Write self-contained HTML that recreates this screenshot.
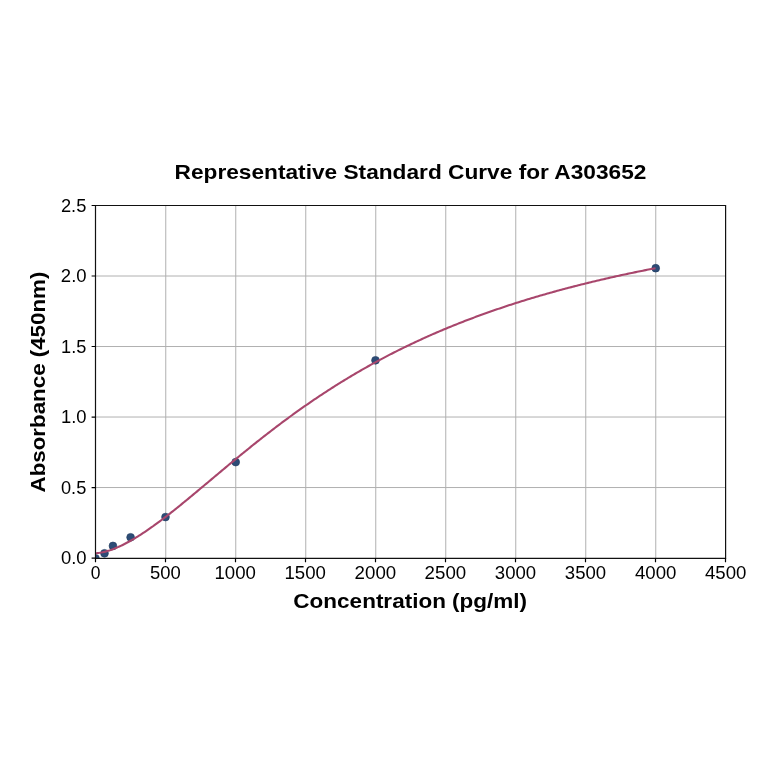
<!DOCTYPE html>
<html><head><meta charset="utf-8"><title>Representative Standard Curve for A303652</title>
<style>html,body{margin:0;padding:0;background:#fff;width:764px;height:764px;overflow:hidden}svg{display:block;will-change:transform}</style></head>
<body><svg width="764" height="764" viewBox="0 0 764 764">
<defs><clipPath id="ax"><rect x="95.5" y="205.5" width="630.0" height="352.54999999999995"/></clipPath></defs>
<rect x="0" y="0" width="764" height="764" fill="#fff"/>
<g stroke="#b0b0b0" stroke-opacity="1" stroke-width="1.0" fill="none"><path d="M165.75 205.5V558.05"/><path d="M235.75 205.5V558.05"/><path d="M305.75 205.5V558.05"/><path d="M375.75 205.5V558.05"/><path d="M445.75 205.5V558.05"/><path d="M515.75 205.5V558.05"/><path d="M585.75 205.5V558.05"/><path d="M655.75 205.5V558.05"/><path d="M95.5 487.54H725.5"/><path d="M95.5 417.03H725.5"/><path d="M95.5 346.52H725.5"/><path d="M95.5 276.01H725.5"/></g>
<g clip-path="url(#ax)" fill="#2d4c76" stroke="#203a60" stroke-width="0.6"><circle cx="95.50" cy="558.30" r="3.9"/><circle cx="104.50" cy="553.30" r="3.9"/><circle cx="112.95" cy="545.90" r="3.9"/><circle cx="130.60" cy="537.30" r="3.9"/><circle cx="165.50" cy="517.05" r="3.9"/><circle cx="235.70" cy="462.10" r="3.9"/><circle cx="375.50" cy="360.30" r="3.9"/><circle cx="655.70" cy="268.20" r="3.9"/></g>
<polyline points="95.50,553.21 96.90,553.14 98.31,553.00 99.71,552.81 101.11,552.58 102.52,552.30 103.92,551.98 105.32,551.63 106.73,551.24 108.13,550.82 109.54,550.38 110.94,549.90 112.34,549.40 113.75,548.87 115.15,548.31 116.55,547.73 117.96,547.13 119.36,546.50 120.76,545.85 122.17,545.18 123.57,544.49 124.97,543.78 126.38,543.05 127.78,542.30 129.18,541.54 130.59,540.75 131.99,539.95 133.39,539.13 134.80,538.30 136.20,537.45 137.61,536.59 139.01,535.71 140.41,534.82 141.82,533.91 143.22,532.99 144.62,532.06 146.03,531.12 147.43,530.16 148.83,529.19 150.24,528.22 151.64,527.23 153.04,526.23 154.45,525.22 155.85,524.20 157.25,523.17 158.66,522.13 160.06,521.09 161.46,520.03 162.87,518.97 164.27,517.90 165.68,516.82 167.08,515.74 168.48,514.65 169.89,513.55 171.29,512.45 172.69,511.34 174.10,510.23 175.50,509.11 176.90,507.98 178.31,506.85 179.71,505.72 181.11,504.58 182.52,503.44 183.92,502.29 185.32,501.14 186.73,499.99 188.13,498.83 189.54,497.67 190.94,496.51 192.34,495.35 193.75,494.18 195.15,493.01 196.55,491.84 197.96,490.67 199.36,489.50 200.76,488.32 202.17,487.15 203.57,485.97 204.97,484.80 206.38,483.62 207.78,482.44 209.18,481.26 210.59,480.08 211.99,478.90 213.39,477.72 214.80,476.55 216.20,475.37 217.61,474.19 219.01,473.02 220.41,471.84 221.82,470.67 223.22,469.49 224.62,468.32 226.03,467.15 227.43,465.98 228.83,464.81 230.24,463.65 231.64,462.48 233.04,461.32 234.45,460.16 235.85,459.00 237.25,457.85 238.66,456.69 240.06,455.54 241.46,454.39 242.87,453.25 244.27,452.10 245.68,450.96 247.08,449.83 248.48,448.69 249.89,447.56 251.29,446.43 252.69,445.30 254.10,444.18 255.50,443.06 256.90,441.94 258.31,440.83 259.71,439.72 261.11,438.61 262.52,437.51 263.92,436.41 265.32,435.32 266.73,434.22 268.13,433.13 269.54,432.05 270.94,430.97 272.34,429.89 273.75,428.82 275.15,427.75 276.55,426.68 277.96,425.62 279.36,424.56 280.76,423.51 282.17,422.46 283.57,421.41 284.97,420.37 286.38,419.33 287.78,418.30 289.18,417.27 290.59,416.25 291.99,415.23 293.39,414.21 294.80,413.20 296.20,412.19 297.61,411.18 299.01,410.18 300.41,409.19 301.82,408.20 303.22,407.21 304.62,406.23 306.03,405.25 307.43,404.28 308.83,403.31 310.24,402.34 311.64,401.38 313.04,400.42 314.45,399.47 315.85,398.53 317.25,397.58 318.66,396.64 320.06,395.71 321.46,394.78 322.87,393.85 324.27,392.93 325.68,392.01 327.08,391.10 328.48,390.19 329.89,389.29 331.29,388.39 332.69,387.50 334.10,386.61 335.50,385.72 336.90,384.84 338.31,383.96 339.71,383.09 341.11,382.22 342.52,381.35 343.92,380.49 345.32,379.64 346.73,378.78 348.13,377.94 349.54,377.09 350.94,376.25 352.34,375.42 353.75,374.59 355.15,373.76 356.55,372.94 357.96,372.12 359.36,371.31 360.76,370.50 362.17,369.70 363.57,368.89 364.97,368.10 366.38,367.30 367.78,366.52 369.18,365.73 370.59,364.95 371.99,364.17 373.39,363.40 374.80,362.63 376.20,361.87 377.61,361.11 379.01,360.35 380.41,359.60 381.82,358.85 383.22,358.11 384.62,357.37 386.03,356.63 387.43,355.90 388.83,355.17 390.24,354.44 391.64,353.72 393.04,353.01 394.45,352.29 395.85,351.58 397.25,350.88 398.66,350.18 400.06,349.48 401.46,348.78 402.87,348.09 404.27,347.40 405.68,346.72 407.08,346.04 408.48,345.37 409.89,344.69 411.29,344.02 412.69,343.36 414.10,342.70 415.50,342.04 416.90,341.38 418.31,340.73 419.71,340.09 421.11,339.44 422.52,338.80 423.92,338.16 425.32,337.53 426.73,336.90 428.13,336.27 429.54,335.65 430.94,335.03 432.34,334.41 433.75,333.80 435.15,333.19 436.55,332.58 437.96,331.98 439.36,331.38 440.76,330.78 442.17,330.19 443.57,329.59 444.97,329.01 446.38,328.42 447.78,327.84 449.18,327.26 450.59,326.69 451.99,326.12 453.39,325.55 454.80,324.98 456.20,324.42 457.61,323.86 459.01,323.30 460.41,322.75 461.82,322.20 463.22,321.65 464.62,321.10 466.03,320.56 467.43,320.02 468.83,319.49 470.24,318.95 471.64,318.42 473.04,317.90 474.45,317.37 475.85,316.85 477.25,316.33 478.66,315.81 480.06,315.30 481.46,314.79 482.87,314.28 484.27,313.78 485.68,313.27 487.08,312.77 488.48,312.27 489.89,311.78 491.29,311.29 492.69,310.80 494.10,310.31 495.50,309.83 496.90,309.35 498.31,308.87 499.71,308.39 501.11,307.91 502.52,307.44 503.92,306.97 505.32,306.51 506.73,306.04 508.13,305.58 509.54,305.12 510.94,304.66 512.34,304.21 513.75,303.76 515.15,303.31 516.55,302.86 517.96,302.42 519.36,301.97 520.76,301.53 522.17,301.09 523.57,300.66 524.97,300.23 526.38,299.79 527.78,299.36 529.18,298.94 530.59,298.51 531.99,298.09 533.39,297.67 534.80,297.25 536.20,296.84 537.61,296.42 539.01,296.01 540.41,295.60 541.82,295.19 543.22,294.79 544.62,294.39 546.03,293.99 547.43,293.59 548.83,293.19 550.24,292.79 551.64,292.40 553.04,292.01 554.45,291.62 555.85,291.24 557.25,290.85 558.66,290.47 560.06,290.09 561.46,289.71 562.87,289.33 564.27,288.96 565.68,288.58 567.08,288.21 568.48,287.84 569.89,287.47 571.29,287.11 572.69,286.74 574.10,286.38 575.50,286.02 576.90,285.66 578.31,285.31 579.71,284.95 581.11,284.60 582.52,284.25 583.92,283.90 585.32,283.55 586.73,283.20 588.13,282.86 589.54,282.52 590.94,282.18 592.34,281.84 593.75,281.50 595.15,281.16 596.55,280.83 597.96,280.50 599.36,280.17 600.76,279.84 602.17,279.51 603.57,279.18 604.97,278.86 606.38,278.54 607.78,278.21 609.18,277.89 610.59,277.58 611.99,277.26 613.39,276.94 614.80,276.63 616.20,276.32 617.61,276.01 619.01,275.70 620.41,275.39 621.82,275.09 623.22,274.78 624.62,274.48 626.03,274.18 627.43,273.88 628.83,273.58 630.24,273.28 631.64,272.99 633.04,272.69 634.45,272.40 635.85,272.11 637.25,271.82 638.66,271.53 640.06,271.24 641.46,270.96 642.87,270.67 644.27,270.39 645.68,270.11 647.08,269.83 648.48,269.55 649.89,269.27 651.29,268.99 652.69,268.72 654.10,268.44 655.50,268.17" fill="none" stroke="#a8466c" stroke-width="2.1" stroke-linejoin="round" stroke-linecap="butt" clip-path="url(#ax)"/>
<path d="M95.5 205.5H725.6M95.5 558.3H725.6M95.5 204.9V558.9M725.6 204.9V558.9" fill="none" stroke="#111" stroke-width="1.2"/>
<path d="M95.50 558.3v3.9M165.50 558.3v3.9M235.50 558.3v3.9M305.50 558.3v3.9M375.50 558.3v3.9M445.50 558.3v3.9M515.50 558.3v3.9M585.50 558.3v3.9M655.50 558.3v3.9M725.50 558.3v3.9M95.5 558.05h-3.9M95.5 487.54h-3.9M95.5 417.03h-3.9M95.5 346.52h-3.9M95.5 276.01h-3.9M95.5 205.50h-3.9" stroke="#000" stroke-width="1.2" fill="none"/>
<g font-family="'Liberation Sans', sans-serif" fill="#000"><text x="90.63" y="578.95" font-size="17.8" font-weight="normal" textLength="9.73" lengthAdjust="spacingAndGlyphs">0</text><text x="150.11" y="578.95" font-size="17.8" font-weight="normal" textLength="30.76" lengthAdjust="spacingAndGlyphs">500</text><text x="214.42" y="578.95" font-size="17.8" font-weight="normal" textLength="41.47" lengthAdjust="spacingAndGlyphs">1000</text><text x="284.42" y="578.95" font-size="17.8" font-weight="normal" textLength="41.47" lengthAdjust="spacingAndGlyphs">1500</text><text x="354.60" y="578.95" font-size="17.8" font-weight="normal" textLength="41.60" lengthAdjust="spacingAndGlyphs">2000</text><text x="424.60" y="578.95" font-size="17.8" font-weight="normal" textLength="41.60" lengthAdjust="spacingAndGlyphs">2500</text><text x="494.85" y="578.95" font-size="17.8" font-weight="normal" textLength="41.31" lengthAdjust="spacingAndGlyphs">3000</text><text x="564.85" y="578.95" font-size="17.8" font-weight="normal" textLength="41.31" lengthAdjust="spacingAndGlyphs">3500</text><text x="634.91" y="578.95" font-size="17.8" font-weight="normal" textLength="41.49" lengthAdjust="spacingAndGlyphs">4000</text><text x="704.91" y="578.95" font-size="17.8" font-weight="normal" textLength="41.49" lengthAdjust="spacingAndGlyphs">4500</text><text x="60.97" y="564.45" font-size="17.8" font-weight="normal" textLength="25.64" lengthAdjust="spacingAndGlyphs">0.0</text><text x="60.98" y="493.94" font-size="17.8" font-weight="normal" textLength="25.33" lengthAdjust="spacingAndGlyphs">0.5</text><text x="61.02" y="423.43" font-size="17.8" font-weight="normal" textLength="25.60" lengthAdjust="spacingAndGlyphs">1.0</text><text x="61.04" y="352.92" font-size="17.8" font-weight="normal" textLength="25.27" lengthAdjust="spacingAndGlyphs">1.5</text><text x="60.89" y="282.41" font-size="17.8" font-weight="normal" textLength="25.74" lengthAdjust="spacingAndGlyphs">2.0</text><text x="60.90" y="211.90" font-size="17.8" font-weight="normal" textLength="25.42" lengthAdjust="spacingAndGlyphs">2.5</text><text x="174.59" y="178.50" font-size="19.8" font-weight="bold" textLength="471.82" lengthAdjust="spacingAndGlyphs">Representative Standard Curve for A303652</text><text x="293.38" y="608.20" font-size="19.8" font-weight="bold" textLength="233.74" lengthAdjust="spacingAndGlyphs">Concentration (pg/ml)</text><text transform="translate(44.85 491.9) rotate(-90)" x="-0.56" y="0" font-size="19.8" font-weight="bold" textLength="220.77" lengthAdjust="spacingAndGlyphs">Absorbance (450nm)</text></g>
</svg></body></html>
